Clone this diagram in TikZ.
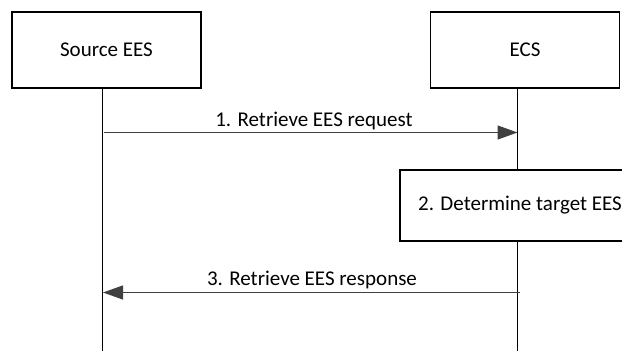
\documentclass[tikz,border=0pt]{standalone}
\usepackage{fontspec}
\setmainfont{Carlito}
\usetikzlibrary{arrows.meta}
\begin{document}
\begin{tikzpicture}[x=1pt,y=-1pt,
  entity/.style={draw=black,line width=1.2pt,fill=white,minimum width=189pt,minimum height=76pt,inner sep=0pt,font=\fontsize{21}{24}\selectfont},
  procbox/.style={draw=black,line width=1.2pt,fill=white,minimum width=240pt,minimum height=71pt,inner sep=0pt,font=\fontsize{21}{24}\selectfont},
  lifeline/.style={draw=black,line width=1pt},
  msg/.style={draw=black!75,line width=1.2pt,-{Triangle[length=20pt,width=14pt]}},
  lbl/.style={font=\fontsize{21}{24}\selectfont,inner sep=0pt}]
\useasboundingbox (0,0) rectangle (622,351);
\clip (0,0) rectangle (622,351);
\coordinate (srcbot) at (102.5,351);
\coordinate (ecsbot) at (517.5,351);
\draw[lifeline] (102.5,88) -- (srcbot);
\draw[lifeline] (517.5,88) -- (ecsbot);
\node[entity] (src) at (106.5,50) {Source EES};
\node[entity] (ecs) at (525,50) {ECS};
\coordinate (m1s) at (104,132.5);
\coordinate (m1e) at (517.5,132.5);
\draw[msg] (m1s) -- (m1e);
\node[lbl] (l1) at (314,121) {1. Retrieve EES request};
\node[procbox] (det) at (520,205.5) {2. Determine target EES};
\coordinate (m3s) at (520,292.5);
\coordinate (m3e) at (103,292.5);
\draw[msg] (m3s) -- (m3e);
\node[lbl] (l3) at (312,280) {3. Retrieve EES response};
\end{tikzpicture}
\end{document}
